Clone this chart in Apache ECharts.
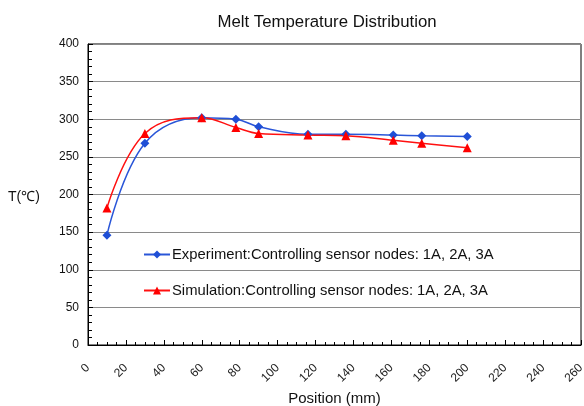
<!DOCTYPE html>
<html><head><meta charset="utf-8">
<script src="https://cdn.jsdelivr.net/npm/echarts@6/dist/echarts.min.js"></script>
<style>html,body{margin:0;padding:0;background:#fff}#c{width:584px;height:406px}</style>
</head><body><div id="c"></div>
<script>
const positions = [10, 30, 60, 78, 90, 116, 136, 161, 176, 200];
const experiment = [146, 268, 302, 300, 290, 280, 280, 279, 278, 277];
const simulation = [182, 281, 302, 289, 281, 279, 278, 272, 268, 262];
const seriesNames = ['Experiment:Controlling sensor nodes: 1A, 2A, 3A', 'Simulation:Controlling sensor nodes: 1A, 2A, 3A'];
const titleText = 'Melt Temperature Distribution';
const xName = 'Position (mm)';
const yName = 'T(\u2103)';

const FONT = '"Liberation Sans", Arial, sans-serif';
const chart = echarts.init(document.getElementById('c'), null, {renderer: 'canvas'});
chart.setOption({
  animation: false,
  backgroundColor: '#fff',
  title: {text: titleText, left: 322, top: 9, textAlign: 'center',
    textStyle: {fontFamily: FONT, fontSize: 16.8, fontWeight: 'normal', color: '#111'}},
  grid: {left: 88, right: 3, top: 44, bottom: 61, show: true, borderColor: '#000', borderWidth: 1,
    outerBoundsMode: 'none', containLabel: false},
  legend: {orient: 'vertical', left: 138, top: 242, itemGap: 21, itemWidth: 26, itemHeight: 10,
    textStyle: {fontFamily: FONT, fontSize: 14.8, color: '#111', padding: [0,0,0,-3]},
    data: seriesNames},
  graphic: [{type: 'text', left: 8, top: 190, style: {text: yName, font: '14px ' + FONT, fill: '#111'}}],
  xAxis: {type: 'value', min: 0, max: 260, interval: 20,
    name: xName, nameLocation: 'middle', nameGap: 45,
    nameTextStyle: {fontFamily: FONT, fontSize: 15, color: '#111'},
    axisLine: {lineStyle: {color: '#000', width: 1}},
    axisTick: {inside: true, length: 5, lineStyle: {color: '#000'}},
    minorTick: {show: true, splitNumber: 4, length: 3, lineStyle: {color: '#000'}},
    splitLine: {show: false},
    axisLabel: {rotate: 45, margin: 21, align: 'right', verticalAlign: 'middle',
      fontFamily: FONT, fontSize: 12, color: '#222'}},
  yAxis: {type: 'value', min: 0, max: 400, interval: 50,
    axisLine: {show: true, lineStyle: {color: '#000', width: 1}},
    axisTick: {show: true, inside: true, length: 5, lineStyle: {color: '#000'}},
    minorTick: {show: true, splitNumber: 5, length: 4, lineStyle: {color: '#000'}},
    splitLine: {show: true, lineStyle: {color: '#8a8a8a', width: 1}},
    axisLabel: {margin: 9, fontFamily: FONT, fontSize: 12, color: '#111'}},
  series: [
    {name: seriesNames[0], type: 'line', smooth: 0.4,
     data: positions.map((x, i) => [x, experiment[i]]),
     symbol: 'diamond', symbolSize: 9,
     lineStyle: {color: '#2a56d8', width: 1.5}, itemStyle: {color: '#1f4fd6'}},
    {name: seriesNames[1], type: 'line', smooth: 0.4,
     data: positions.map((x, i) => [x, simulation[i]]),
     symbol: 'triangle', symbolSize: 9,
     lineStyle: {color: '#ff1010', width: 1.5}, itemStyle: {color: '#ff0000'}}
  ]
});
</script></body></html>
